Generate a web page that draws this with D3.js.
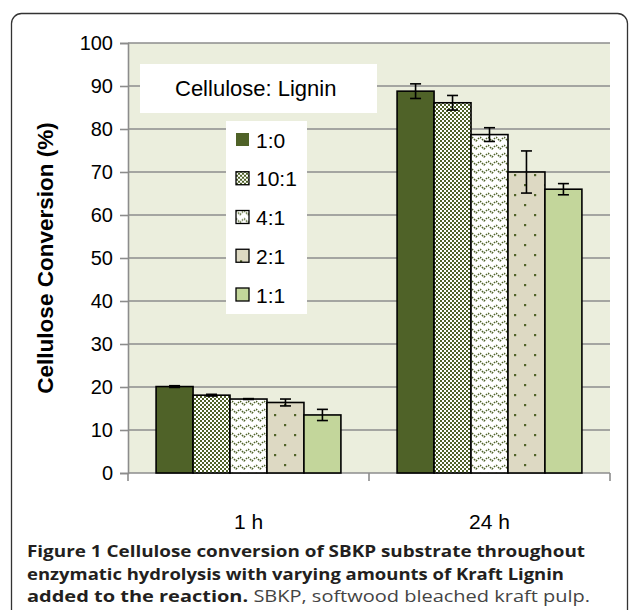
<!DOCTYPE html>
<html>
<head>
<meta charset="utf-8">
<script src="https://cdn.jsdelivr.net/npm/d3@7"></script>
<style>
  body { margin: 0; background: #fff; }
  svg { display: block; }
</style>
</head>
<body>
<svg id="chart" width="630" height="610"></svg>
<script>
// data
const categories = ['1 h', '24 h'];
const ratios = ['1:0', '10:1', '4:1', '2:1', '1:1'];
const values1h = [20.1, 18.1, 17.2, 16.4, 13.5];
const values24h = [88.8, 86.1, 78.7, 70.0, 66.0];
const errors1h = [0.2, 0.2, 0.1, 0.8, 1.3];
const errors24h = [1.7, 1.7, 1.6, 4.9, 1.3];
const yTicks = [0, 10, 20, 30, 40, 50, 60, 70, 80, 90, 100];

let svg = d3.select('#chart');

let rows = [];
categories.forEach((c, i) => {
    let vals = i === 0 ? values1h : values24h;
    let errs = i === 0 ? errors1h : errors24h;
    ratios.forEach((r, j) => {
        rows.push({ cat: c, ratio: r, value: vals[j], err: errs[j] });
    });
});

let plotLeft = 128, plotRight = 610, plotTop = 43, plotBottom = 473;

let x0 = d3.scaleBand().domain(categories).range([plotLeft, plotRight]);
let x1 = d3.scaleBand().domain(ratios).range([0, x0.bandwidth()])
    .paddingInner(0).paddingOuter(0.76);
let y = d3.scaleLinear().domain([0, 100]).range([plotBottom, plotTop]);

// patterns
let defs = svg.append('defs');
let dark = '#4f6228';

let checker = defs.append('pattern').attr('id', 'checker')
    .attr('patternUnits', 'userSpaceOnUse').attr('width', 4).attr('height', 4);
checker.append('rect').attr('width', 4).attr('height', 4).attr('fill', '#fff');
checker.append('rect').attr('width', 2).attr('height', 2).attr('fill', dark);
checker.append('rect').attr('x', 2).attr('y', 2).attr('width', 2).attr('height', 2).attr('fill', dark);

let zig = defs.append('pattern').attr('id', 'zig')
    .attr('patternUnits', 'userSpaceOnUse').attr('width', 8).attr('height', 8);
zig.append('rect').attr('width', 8).attr('height', 8).attr('fill', '#fff');
zig.append('path').attr('d', 'M0,1 L4,5 L8,1').attr('fill', 'none')
    .attr('stroke', dark).attr('stroke-width', 1.5).attr('stroke-dasharray', '1.6,1.2');

let dots = defs.append('pattern').attr('id', 'dots')
    .attr('patternUnits', 'userSpaceOnUse').attr('width', 20).attr('height', 20);
dots.append('rect').attr('width', 20).attr('height', 20).attr('fill', '#ddd9c3');
dots.append('rect').attr('x', 4).attr('y', 4).attr('width', 2.2).attr('height', 2.2).attr('fill', dark);
dots.append('rect').attr('x', 14).attr('y', 14).attr('width', 2.2).attr('height', 2.2).attr('fill', dark);

let fills = d3.scaleOrdinal().domain(ratios)
    .range([dark, 'url(#checker)', 'url(#zig)', 'url(#dots)', '#c3d69b']);

// outer frame
svg.append('rect')
    .attr('x', 11.5).attr('y', 13.5)
    .attr('width', 616).attr('height', 640)
    .attr('rx', 10)
    .attr('fill', 'none')
    .attr('stroke', '#333')
    .attr('stroke-width', 1.3);

// plot background
svg.append('rect')
    .attr('x', plotLeft).attr('y', plotTop)
    .attr('width', plotRight - plotLeft).attr('height', plotBottom - plotTop)
    .attr('fill', '#ebeedd');

// gridlines
svg.append('g')
    .selectAll('line')
    .data(yTicks.filter(d => d > 0))
    .enter()
    .append('line')
    .attr('x1', plotLeft).attr('x2', plotRight)
    .attr('y1', d => y(d)).attr('y2', d => y(d))
    .attr('stroke', '#8c8c8c')
    .attr('stroke-width', 1.6);

// y axis
let yAxis = svg.append('g')
    .attr('transform', 'translate(' + plotLeft + ',0)')
    .call(d3.axisLeft(y).tickValues(yTicks).tickSize(8).tickPadding(7));
yAxis.select('.domain').attr('stroke', '#8c8c8c').attr('stroke-width', 1.6);
yAxis.selectAll('.tick line').attr('stroke', '#8c8c8c').attr('stroke-width', 1.6);
yAxis.selectAll('text')
    .attr('font-family', 'Liberation Sans, Arial, sans-serif')
    .attr('font-size', 20)
    .attr('fill', '#000');

// x axis
let xAxis = svg.append('g')
    .attr('transform', 'translate(0,' + plotBottom + ')')
    .call(d3.axisBottom(x0).tickSize(0).tickPadding(41));
xAxis.select('.domain').remove();
xAxis.selectAll('text')
    .attr('font-family', 'Liberation Sans, Arial, sans-serif')
    .attr('font-size', 21)
    .attr('fill', '#000');
svg.append('line')
    .attr('x1', plotLeft).attr('x2', plotRight)
    .attr('y1', plotBottom).attr('y2', plotBottom)
    .attr('stroke', '#8c8c8c').attr('stroke-width', 1.6);
svg.append('g')
    .selectAll('line')
    .data([plotLeft, plotLeft + x0.step(), plotRight])
    .enter()
    .append('line')
    .attr('x1', d => d).attr('x2', d => d)
    .attr('y1', plotBottom).attr('y2', plotBottom + 8)
    .attr('stroke', '#8c8c8c').attr('stroke-width', 1.6);

// bars
svg.append('g')
    .selectAll('rect')
    .data(rows)
    .enter()
    .append('rect')
    .attr('x', d => x0(d.cat) + x1(d.ratio))
    .attr('y', d => y(d.value))
    .attr('width', x1.bandwidth())
    .attr('height', d => plotBottom - y(d.value))
    .attr('fill', d => fills(d.ratio))
    .attr('stroke', '#000')
    .attr('stroke-width', 1.6);

// error bars
let eb = svg.append('g')
    .selectAll('g')
    .data(rows)
    .enter()
    .append('g')
    .attr('stroke', '#000')
    .attr('stroke-width', 1.6);
let cx = d => x0(d.cat) + x1(d.ratio) + x1.bandwidth() / 2;
eb.append('line')
    .attr('x1', cx).attr('x2', cx)
    .attr('y1', d => y(d.value - d.err)).attr('y2', d => y(d.value + d.err));
eb.append('line')
    .attr('x1', d => cx(d) - 5.5).attr('x2', d => cx(d) + 5.5)
    .attr('y1', d => y(d.value + d.err)).attr('y2', d => y(d.value + d.err));
eb.append('line')
    .attr('x1', d => cx(d) - 5.5).attr('x2', d => cx(d) + 5.5)
    .attr('y1', d => y(d.value - d.err)).attr('y2', d => y(d.value - d.err));

// y axis title
svg.append('text')
    .attr('transform', 'translate(53,258) rotate(-90)')
    .attr('text-anchor', 'middle')
    .attr('font-family', 'Liberation Sans, Arial, sans-serif')
    .attr('font-weight', 'bold')
    .attr('font-size', 22.5)
    .text('Cellulose Conversion (%)');

// legend
svg.append('rect')
    .attr('x', 140).attr('y', 64)
    .attr('width', 237).attr('height', 49)
    .attr('fill', '#fff');
svg.append('text')
    .attr('x', 175).attr('y', 96)
    .attr('font-family', 'Liberation Sans, Arial, sans-serif')
    .attr('font-size', 22)
    .text('Cellulose: Lignin');

svg.append('rect')
    .attr('x', 226).attr('y', 121)
    .attr('width', 81).attr('height', 193)
    .attr('fill', '#fff');

let legY = d3.scalePoint().domain(ratios).range([140, 295]);
let leg = svg.append('g')
    .selectAll('g')
    .data(ratios)
    .enter()
    .append('g')
    .attr('transform', d => 'translate(236,' + legY(d) + ')');
leg.append('rect')
    .attr('x', 0).attr('y', -7)
    .attr('width', 13).attr('height', 13)
    .attr('fill', d => fills(d))
    .attr('stroke', d => d === '1:0' ? 'none' : '#000')
    .attr('stroke-width', 1.3);
leg.append('text')
    .attr('x', 20).attr('y', 7.5)
    .attr('font-family', 'Liberation Sans, Arial, sans-serif')
    .attr('font-size', 21)
    .text(d => d);

// caption
let cap = svg.append('g')
    .attr('font-family', 'Open Sans, Noto Sans, sans-serif')
    .attr('font-size', 16)
    .attr('fill', '#231f20');
let line1 = cap.append('text').attr('x', 27).attr('y', 557)
    .attr('textLength', 558).attr('lengthAdjust', 'spacingAndGlyphs');
line1.append('tspan').attr('font-weight', 'bold')
    .text('Figure 1 Cellulose conversion of SBKP substrate throughout');
let line2 = cap.append('text').attr('x', 27).attr('y', 579.5)
    .attr('textLength', 537).attr('lengthAdjust', 'spacingAndGlyphs');
line2.append('tspan').attr('font-weight', 'bold')
    .text('enzymatic hydrolysis with varying amounts of Kraft Lignin');
let line3 = cap.append('text').attr('x', 27).attr('y', 602)
    .attr('textLength', 563).attr('lengthAdjust', 'spacingAndGlyphs');
line3.append('tspan').attr('font-weight', 'bold')
    .text('added to the reaction.');
line3.append('tspan').attr('fill', '#444')
    .text(' SBKP, softwood bleached kraft pulp.');
</script>
</body>
</html>
